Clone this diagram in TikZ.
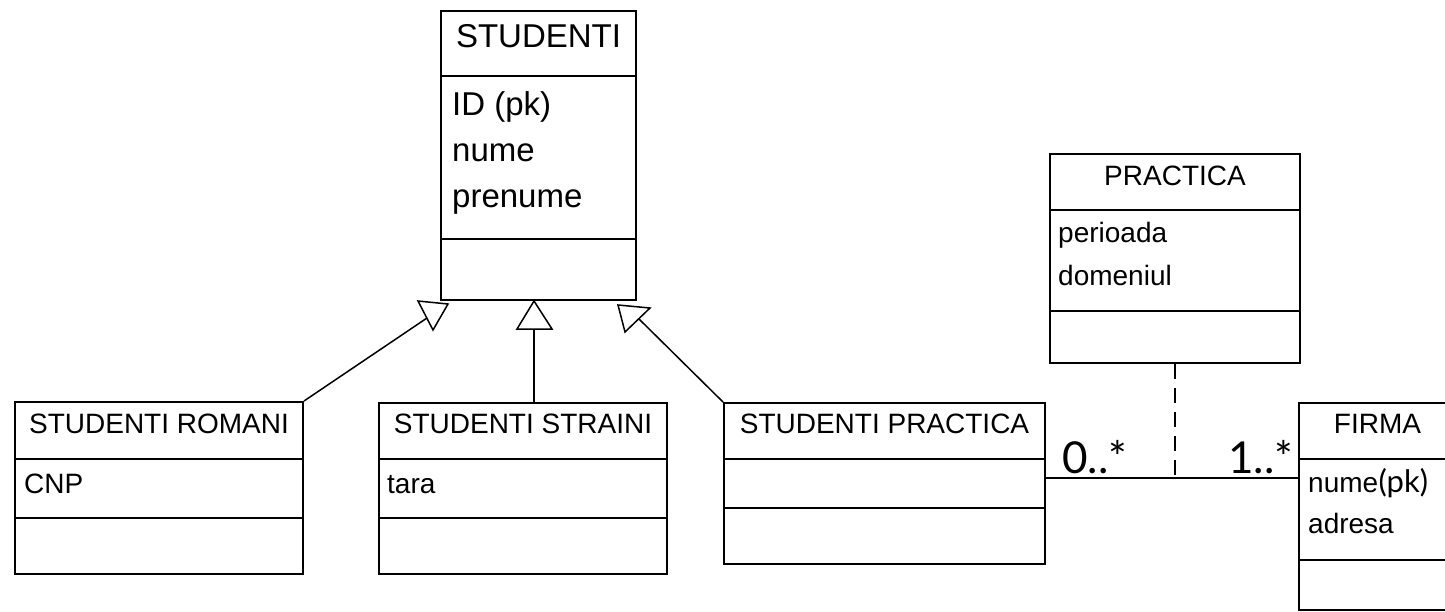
\documentclass[tikz,border=0pt]{standalone}
\usepackage{fontspec}
\setmainfont{Liberation Sans}
\newfontfamily\gillfont{Lato}
\tikzset{
  umlbox/.style={draw, line width=2pt, anchor=north west, inner sep=0pt},
  umltext/.style={inner sep=0pt, anchor=base, font=\fontsize{28}{30}\selectfont},
  umlattr/.style={umltext, anchor=base west},
  gen/.style={line width=1.5pt, line join=miter},
  mult/.style={inner sep=0pt, anchor=base west, font=\gillfont\fontsize{44}{46}\selectfont},
}

\begin{document}
\begin{tikzpicture}[x=1pt, y=-1pt]
  \clip (0,0) rectangle (1445,611);
  \fill[white] (0,0) rectangle (1445,611);
  % classes
  \node[umlbox, minimum width=195pt, minimum height=289pt] (stud) at (440,10) {};
  \node[umlbox, minimum width=250pt, minimum height=209pt] (prac) at (1049,153) {};
  \node[umlbox, minimum width=288pt, minimum height=172pt] (rom) at (14,401) {};
  \node[umlbox, minimum width=288pt, minimum height=171pt] (str) at (378,402) {};
  \node[umlbox, minimum width=321pt, minimum height=161pt] (sp) at (723,402) {};
  \node[umlbox, minimum width=157pt, minimum height=207pt] (firma) at (1298,402) {};
  \foreach \b/\y in {stud/76, stud/239, prac/210, prac/311, rom/459, rom/518,
                     str/459, str/518, sp/459, sp/508, firma/459, firma/560}
    \draw[line width=2pt] (\b.west |- 0,\y) -- (\b.east |- 0,\y);
  % names
  \node[umltext, font=\fontsize{33}{36}\selectfont] (stud-t) at (stud.north |- 0,47) {STUDENTI};
  \node[umltext] (prac-t) at (prac.north |- 0,185) {PRACTICA};
  \node[umltext] (rom-t) at (rom.north |- 0,433) {STUDENTI ROMANI};
  \node[umltext] (str-t) at (str.north |- 0,433) {STUDENTI STRAINI};
  \node[umltext] (sp-t) at (sp.north |- 0,433) {STUDENTI PRACTICA};
  \node[umltext] (firma-t) at (firma.north |- 0,433) {FIRMA};
  % attributes
  \node[umlattr, font=\fontsize{33}{36}\selectfont] (stud-a1) at (452,115) {ID (pk)};
  \node[umlattr, font=\fontsize{33}{36}\selectfont] (stud-a2) at (452,161) {nume};
  \node[umlattr, font=\fontsize{33}{36}\selectfont] (stud-a3) at (452,207) {prenume};
  \node[umlattr] (prac-a1) at (1058,242) {perioada};
  \node[umlattr] (prac-a2) at (1058,285) {domeniul};
  \node[umlattr] (rom-a1) at (24,493) {CNP};
  \node[umlattr] (str-a1) at (387,493) {tara};
  \node[umlattr] (firma-a1) at (1308,492) {nume};
  \node[mult, font=\gillfont\fontsize{31}{33}\selectfont] (firma-pk) at (firma-a1.base east) {(pk)};
  \node[umlattr] (firma-a2) at (1308,533) {adresa};
  % generalizations
  \coordinate (g1) at (427,318);
  \coordinate (g2) at (534,329);
  \coordinate (g3) at (639,319);
  \draw[gen] (418,301) -- (448,304) -- (433,330) -- cycle;
  \draw[gen] (534,301) -- (552,329) -- (517,329) -- cycle;
  \draw[gen] (618,305) -- (650,308) -- (625,332) -- cycle;
  \draw[gen] (rom.north east) -- (g1);
  \draw[gen] (g2) -- (g2 |- str.north);
  \draw[gen] (sp.north west) -- (g3);
  % association with class
  \coordinate (assoc) at (prac.south |- 0,478);
  \draw[line width=2pt] (sp.east |- assoc) -- (firma.west |- assoc);
  \draw[line width=2pt, dash pattern=on 15pt off 9pt] (prac.south) -- (assoc);
  \node[mult] (m-sp) at (1062,473) {0..*};
  \node[mult] (m-firma) at (1228,473) {1..*};
\end{tikzpicture}
\end{document}
